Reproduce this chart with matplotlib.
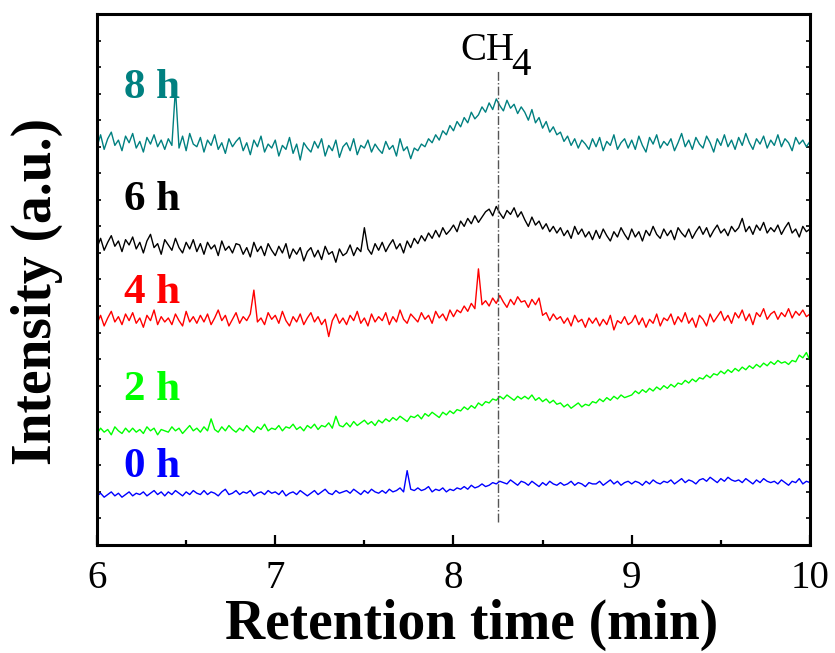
import matplotlib
matplotlib.use('Agg')
import matplotlib.pyplot as plt
import numpy as np

# retention time grid, one reading every 0.02 min
time = np.linspace(6, 10, 201)

# intensities (a.u., traces already offset)
h8 = [300, 309, 298, 306, 311, 301, 305, 297, 308, 303,
      310, 299, 304, 296, 307, 302, 309, 300, 305, 298,
      306, 301, 344, 299, 308, 297, 310, 302, 300, 307,
      296, 305, 301, 309, 298, 303, 295, 306, 300, 304,
      307, 297, 303, 294, 305, 300, 308, 296, 302, 299,
      305, 293, 301, 298, 307, 295, 302, 290, 303, 299,
      296, 304, 299, 306, 293, 301, 297, 305, 292, 300,
      303, 297, 306, 294, 301, 299, 305, 296, 302, 298,
      295, 304, 298, 301, 293, 306, 297, 300, 291, 299,
      297, 302, 300, 306, 303, 309, 305, 312, 309, 316,
      312, 319, 315, 322, 318, 326, 321, 324, 330, 326,
      333, 328, 336, 331, 327, 335, 329, 332, 325, 330,
      326, 320, 328, 318, 322, 314, 319, 311, 315, 309,
      311, 304, 308, 301, 306, 299, 305, 302, 298, 306,
      300, 307, 297, 304, 301, 309, 298, 303, 306, 299,
      305, 298, 308, 301, 296, 307, 302, 309, 299, 304,
      301, 306, 297, 303, 310, 300, 305, 298, 307, 302,
      299, 308, 303, 296, 306, 301, 309, 300, 305, 298,
      307, 301, 310, 303, 298, 306, 302, 308, 299, 305,
      301, 309, 300, 306, 303, 297, 307, 302, 305, 300,
      304]

h6 = [224, 231, 222, 228, 233, 225, 229, 221, 230, 226,
      232, 223, 228, 220, 229, 234, 224, 227, 219, 230,
      226, 222, 231, 224, 220, 228, 223, 230, 221, 227,
      219, 228, 223, 226, 218, 229, 222, 225, 220, 227,
      226, 219, 224, 217, 228, 221, 225, 218, 227, 222,
      218, 225, 220, 227, 216, 223, 219, 224, 214, 221,
      224, 217, 222, 215, 225, 219, 221, 213, 223, 218,
      220, 226, 218, 224, 221, 239, 223, 219, 227, 222,
      228, 221, 226, 230, 223, 227, 220, 229, 224, 231,
      227, 233, 229, 235, 231, 237, 232, 239, 234, 237,
      241, 236, 244, 240, 246, 242, 248, 243, 247, 251,
      253, 248, 255, 250, 246, 252, 249, 254, 247, 251,
      245, 240, 247, 241, 244, 238, 242, 236, 240, 235,
      239, 233, 237, 231, 240, 234, 238, 232, 236, 230,
      237, 231, 238, 233, 229, 236, 232, 239, 234, 230,
      238, 232, 236, 229, 237, 233, 240, 234, 231, 238,
      233, 237, 230, 239, 235, 232, 238, 231, 236, 240,
      234, 239, 232, 237, 241, 235, 238, 233, 240, 236,
      239, 246, 236, 240, 234, 241, 237, 243, 235, 239,
      236, 241, 234, 239, 243, 235, 238, 232, 240, 236,
      238]

h4 = [167, 173, 165, 171, 176, 168, 172, 166, 174, 169,
      175, 167, 171, 164, 173, 169, 177, 166, 172, 168,
      171, 166, 174, 169, 165, 176, 168, 172, 167, 173,
      168, 174, 166, 171, 177, 169, 173, 165, 170, 175,
      167, 172, 169, 174, 192, 168, 171, 166, 175, 170,
      173, 167, 176, 169, 165, 172, 168, 174, 166, 171,
      175, 168, 172, 166, 170, 157, 169, 174, 167, 171,
      166, 173, 169, 176, 167, 171, 165, 174, 168, 172,
      169, 175, 166, 172, 168, 177, 170, 167, 174, 171,
      168, 175, 170, 173, 167, 176, 171, 174, 169, 177,
      172, 177, 175, 180, 176, 182, 178, 208, 181, 184,
      180, 186, 182, 188, 183, 179, 185, 181, 187, 183,
      184, 179, 185, 181, 186, 173, 175, 169, 174, 170,
      172, 167, 171, 165, 173, 168, 170, 164, 171, 167,
      171, 165, 170, 166, 173, 162, 169, 167, 172, 166,
      168, 173, 166, 171, 164, 170, 167, 174, 165, 171,
      169, 174, 166, 172, 168, 175, 167, 171, 164, 173,
      170, 165, 174, 168, 172, 176, 169, 173, 167, 175,
      171, 177, 169, 174, 166, 175, 172, 178, 170, 174,
      176, 170, 175, 172, 178, 171, 176, 173, 177, 172,
      174]

h2 = [84, 88, 85, 87, 83, 89, 86, 84, 88, 85,
      88, 85, 87, 84, 89, 86, 88, 83, 87, 86,
      85, 89, 86, 88, 84, 87, 90, 86, 88, 85,
      89, 86, 95, 87, 85, 89, 86, 90, 87, 85,
      88, 86, 90, 87, 85, 89, 87, 91, 86, 88,
      87, 90, 86, 89, 88, 91, 87, 89, 86, 90,
      88, 91, 87, 90, 89, 92, 88, 97, 90, 89,
      92, 89, 93, 90, 92, 94, 91, 93, 90, 94,
      92, 95, 93, 96, 94, 97, 95, 93, 97, 96,
      98, 95, 99, 97, 100, 98, 96, 100, 98, 101,
      99, 102, 101, 104, 102, 105, 103, 107, 105, 108,
      107, 110, 109, 112, 110, 113, 111, 109, 112, 110,
      112, 110, 113, 109, 111, 108, 110, 107, 109, 106,
      107, 104, 106, 103, 105, 107, 104, 106, 105, 108,
      107, 110, 108, 111, 109, 112, 110, 113, 111, 112,
      113, 116, 114, 117, 115, 118, 116, 119, 117, 120,
      118, 121, 119, 122, 121, 124, 122, 125, 123, 126,
      125, 128, 126, 129, 128, 131, 129, 132, 130, 133,
      131, 134, 132, 135, 133, 136, 134, 137, 135, 138,
      136, 139, 137, 138, 136, 139, 138, 143, 141, 145,
      139]

h0 = [37, 39, 36, 38, 40, 37, 39, 36, 38, 40,
      37, 39, 38, 40, 37, 39, 41, 38, 40, 37,
      40, 38, 41, 39, 37, 40, 38, 41, 39, 38,
      41, 38, 40, 39, 37, 40, 42, 38, 39, 41,
      38, 40, 39, 41, 37, 39, 40, 38, 41, 39,
      40, 38, 41, 37, 39, 40, 38, 41, 39, 37,
      39, 41, 38, 40, 42, 39, 38, 41, 39, 40,
      41, 39, 42, 40, 38, 41, 39, 42, 40, 39,
      41, 39, 42, 40, 41, 43, 40, 56, 42, 41,
      43, 41, 42, 44, 40, 42, 41, 43, 40, 42,
      41, 43, 42, 44, 42, 45, 43, 44, 46, 44,
      45, 47, 46, 48, 47, 46, 49, 47, 45, 48,
      47, 45, 48, 46, 44, 47, 45, 48, 46, 45,
      47, 45, 46, 48, 45, 47, 46, 44, 47, 46,
      46, 48, 45, 47, 49, 46, 48, 45, 47, 48,
      46, 48, 47, 45, 48, 46, 49, 47, 46, 48,
      47, 49, 46, 48, 50, 47, 49, 48, 46, 49,
      50, 48, 51, 49, 47, 50, 48, 51, 49, 48,
      49, 47, 50, 48, 46, 49, 47, 50, 48, 47,
      48, 46, 49, 47, 45, 48, 47, 50, 46, 48,
      47]

labels = ['8 h', '6 h', '4 h', '2 h', '0 h']
colors = ['#008080', 'black', '#ff0000', '#00ff00', '#0000ff']
label_y = [337, 252, 182, 109, 51]
series = [h8, h6, h4, h2, h0]
ch4_time = 8.25

plt.rcParams['font.family'] = ['Liberation Serif', 'DejaVu Serif']

fig = plt.figure(figsize=(8.35, 6.53), dpi=100)
ax = fig.add_axes([0.1162, 0.1654, 0.8538, 0.8132])

for ys, c in zip(series, colors):
    ax.plot(time, ys, color=c, lw=1.0)

for lab, c, ly in zip(labels, colors, label_y):
    ax.text(6.15, ly, lab, color=c, fontsize=31, fontweight='bold',
            ha='left', va='baseline')

ax.plot([ch4_time, ch4_time], [17, 358], color='#555555', lw=1, ls='-.')
ax.text(8.04, 365, 'CH', fontsize=28, ha='left', va='baseline')
ax.text(8.325, 354, '4', fontsize=28, ha='left', va='baseline')

ax.set_xlim(6, 10)
ax.set_ylim(0, 400)
ax.set_xticks([6, 7, 8, 9, 10])
ax.set_xticks([6.5, 7.5, 8.5, 9.5], minor=True)
ax.set_yticks(np.arange(0, 401, 20))
ax.set_yticklabels([])
ax.tick_params(axis='x', which='major', direction='in', length=7, width=1.6,
               labelsize=28, pad=11)
ax.tick_params(axis='x', which='minor', direction='in', length=3.5, width=1.6)
ax.tick_params(axis='y', which='major', direction='in', length=3, width=1.2,
               left=True, right=True)
for sp in ax.spines.values():
    sp.set_linewidth(2.2)

fig.text(0.565, 0.043, 'Retention time (min)', fontsize=40, fontweight='bold',
         ha='center', va='center')
fig.text(0.044, 0.554, 'Intensity (a.u.)', fontsize=40, fontweight='bold',
         ha='center', va='center', rotation=90)

fig.savefig('out.png', dpi=100)
